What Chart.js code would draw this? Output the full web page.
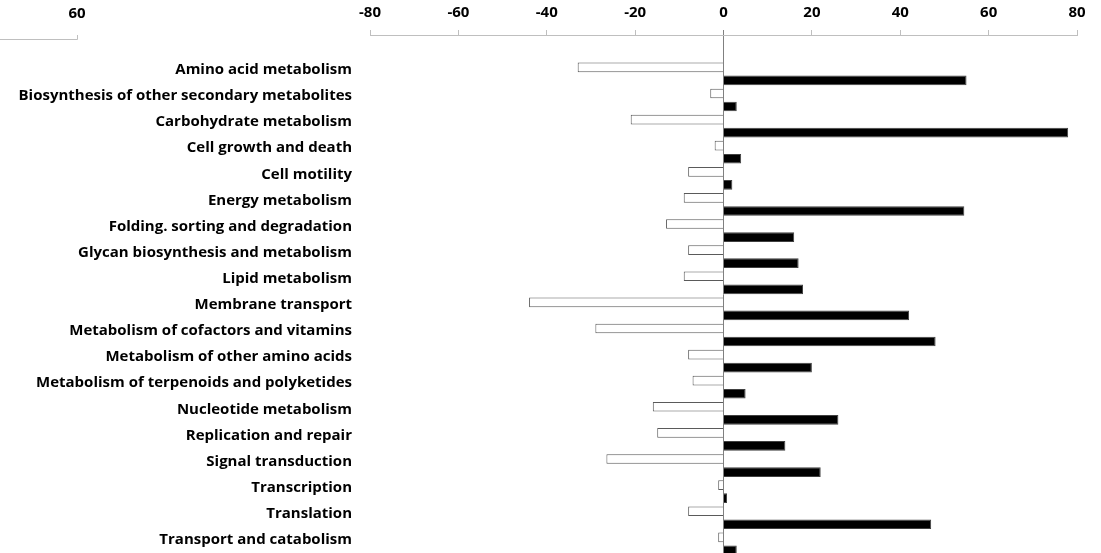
<!DOCTYPE html>
<html>
<head>
<meta charset="utf-8">
<script src="https://cdn.jsdelivr.net/npm/chart.js@4.4.0/dist/chart.umd.min.js"></script>
<style>
  html, body { margin: 0; padding: 0; background: #fff; overflow: hidden; }
  #wrap { position: relative; width: 1101px; height: 553px; }
</style>
</head>
<body>
<div id="wrap"><canvas id="pathwayChart" width="1101" height="553"></canvas></div>
<script>
// KEGG level-2 pathways
const categories = [
    'Amino acid metabolism',
    'Biosynthesis of other secondary metabolites',
    'Carbohydrate metabolism',
    'Cell growth and death',
    'Cell motility',
    'Energy metabolism',
    'Folding. sorting and degradation',
    'Glycan biosynthesis and metabolism',
    'Lipid metabolism',
    'Membrane transport',
    'Metabolism of cofactors and vitamins',
    'Metabolism of other amino acids',
    'Metabolism of terpenoids and polyketides',
    'Nucleotide metabolism',
    'Replication and repair',
    'Signal transduction',
    'Transcription',
    'Translation',
    'Transport and catabolism'
];

// white bars (left of zero)
const downValues = [-33, -3, -21, -2, -8, -9, -13, -8, -9, -44, -29, -8, -7, -16, -15, -26.5, -1.2, -8, -1.2];
// black bars (right of zero)
const upValues = [55, 3, 78, 4, 2, 54.5, 16, 17, 18, 42, 48, 20, 5, 26, 14, 22, 0.8, 47, 3];

const xTicks = [-80, -60, -40, -20, 0, 20, 40, 60, 80];

Chart.defaults.font.family = '"Open Sans", Lato, sans-serif';
Chart.defaults.color = '#000';

// leftover axis fragment in the top-left corner
const fragmentPlugin = {
    id: 'fragment',
    afterDraw(chart) {
        const ctx = chart.ctx;
        ctx.save();
        ctx.strokeStyle = '#bfbfbf';
        ctx.lineWidth = 1;
        ctx.beginPath();
        ctx.moveTo(0, 39.5);
        ctx.lineTo(77.5, 39.5);
        ctx.lineTo(77.5, 35);
        ctx.stroke();
        ctx.fillStyle = '#000';
        ctx.font = 'bold 15px "Open Sans"';
        ctx.textAlign = 'center';
        ctx.textBaseline = 'middle';
        ctx.fillText('60', 77, 14);
        ctx.restore();
    }
};

document.addEventListener('DOMContentLoaded', function() {
    const ctx = document.getElementById('pathwayChart').getContext('2d');
    new Chart(ctx, {
        type: 'bar',
        data: {
            datasets: [{
                label: 'down',
                data: downValues.map((v, i) => ({ x: v, y: i })),
                backgroundColor: '#ffffff',
                borderColor: '#5a5a5a',
                borderWidth: 1,
                borderSkipped: 'start'
            }, {
                label: 'up',
                data: upValues.map((v, i) => ({ x: v, y: i })),
                backgroundColor: '#000000',
                borderColor: '#404040',
                borderWidth: 1,
                borderSkipped: 'start'
            }]
        },
        options: {
            indexAxis: 'y',
            responsive: false,
            animation: false,
            categoryPercentage: 1,
            barPercentage: 0.74,
            layout: { padding: { left: 0, right: 24, top: 0, bottom: 0 } },
            plugins: {
                legend: { display: false },
                tooltip: { enabled: false }
            },
            scales: {
                x: {
                    type: 'linear',
                    position: 'top',
                    min: xTicks[0],
                    max: xTicks[xTicks.length - 1],
                    afterBuildTicks: s => { s.ticks = xTicks.map(v => ({ value: v })); },
                    afterFit: s => { s.height = 35; },
                    border: { display: true, color: '#bfbfbf', width: 1 },
                    grid: {
                        color: c => (c.tick && c.tick.value === 0) ? '#808080' : 'rgba(0,0,0,0)',
                        tickColor: c => (c.tick && c.tick.value === 0) ? '#808080' : '#bfbfbf',
                        tickLength: 5
                    },
                    ticks: {
                        font: { size: 15, weight: 'bold' },
                        color: '#000',
                        padding: 8,
                        maxRotation: 0
                    }
                },
                y: {
                    type: 'linear',
                    reverse: true,
                    offset: false,
                    bounds: 'data',
                    min: -1.49,
                    max: 18.35,
                    afterBuildTicks: s => {
                        s.ticks = categories.map((c, i) => ({ value: i }));
                    },
                    afterFit: s => {
                        s.width = 370;
                        s.paddingTop = 0;
                        s.paddingBottom = 0;
                    },
                    border: { display: false },
                    grid: { display: false, drawTicks: false, offset: false },
                    ticks: {
                        autoSkip: false,
                        padding: 18,
                        labelOffset: -4,
                        font: { size: 15, weight: 'bold' },
                        color: '#000',
                        callback: v => categories[v] ?? ''
                    }
                }
            }
        },
        plugins: [fragmentPlugin]
    });
});
</script>
</body>
</html>
